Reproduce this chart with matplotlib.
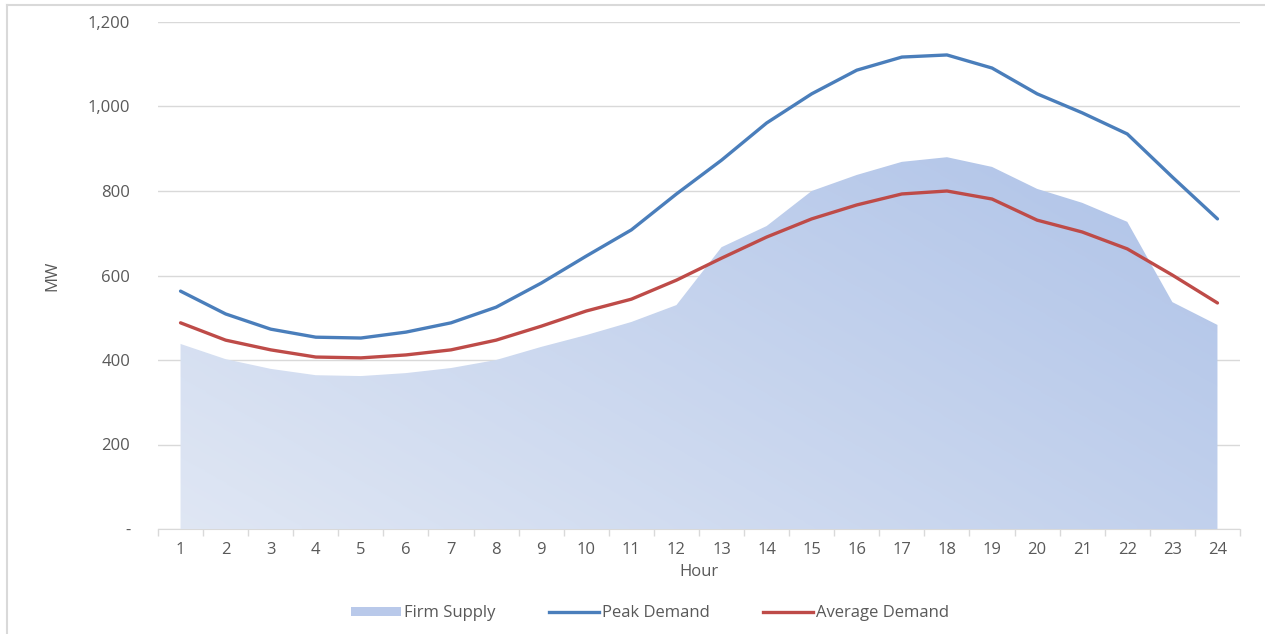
import numpy as np
import matplotlib
matplotlib.use("Agg")
import matplotlib.pyplot as plt
from matplotlib.patches import Rectangle, Polygon
from matplotlib.lines import Line2D
from matplotlib.colors import LinearSegmentedColormap
from matplotlib.ticker import FuncFormatter

hours = list(range(1, 25))
firm_supply = [438, 402, 379, 364, 362, 369, 381, 400, 431, 459, 490, 530,
               667, 717, 800, 838, 869, 880, 857, 805, 772, 727, 537, 483]
peak_demand = [563, 509, 473, 454, 452, 466, 488, 525, 582, 646, 708, 793,
               873, 961, 1030, 1086, 1117, 1122, 1091, 1030, 985, 935, 833, 734]
avg_demand = [488, 447, 424, 407, 405, 412, 424, 447, 480, 516, 544, 589,
              641, 691, 734, 767, 793, 800, 781, 731, 703, 663, 601, 535]
y_ticks = [0, 200, 400, 600, 800, 1000, 1200]

plt.rcParams['font.family'] = ['Open Sans', 'DejaVu Sans']
TXT = '#595959'
GRID = '#d9d9d9'
BLUE = '#4a7ebb'
RED = '#be4b48'

fig = plt.figure(figsize=(12.65, 6.34), dpi=100)
ax = fig.add_axes([158 / 1265, 1 - 529 / 634, (1240 - 158) / 1265, (529 - 22) / 634])

x = np.array(hours, dtype=float)

# gradient-filled firm supply area
grad = LinearSegmentedColormap.from_list('fs', ['#e0e7f4', '#a7bde6'])
gx, gy = np.meshgrid(np.linspace(0, 1, 200), np.linspace(0, 1, 200))
ax.imshow(0.55 * gx + 0.45 * gy, extent=(0.5, 24.5, 0, 1200), origin='lower',
          cmap=grad, aspect='auto', zorder=1, interpolation='bicubic')
verts = [(x[0], 0)] + list(zip(x, firm_supply)) + [(x[-1], 0)]
poly = Polygon(verts, closed=True, facecolor='none', edgecolor='none')
ax.add_patch(poly)
ax.images[0].set_clip_path(poly)

ax.plot(x, peak_demand, color=BLUE, lw=2.4, zorder=3, solid_capstyle='round')
ax.plot(x, avg_demand, color=RED, lw=2.4, zorder=3, solid_capstyle='round')

ax.set_xlim(0.5, 24.5)
ax.set_ylim(0, 1200)
ax.set_yticks(y_ticks)
ax.yaxis.set_major_formatter(FuncFormatter(lambda v, p: '-' if v == 0 else f'{int(v):,}'))
ax.set_xticks(hours)
ax.set_xticks(np.arange(0.5, 25, 1), minor=True)
ax.tick_params(axis='x', which='major', length=0, pad=9, labelsize=12, labelcolor=TXT)
ax.tick_params(axis='x', which='minor', length=5, color=GRID, width=1)
ax.tick_params(axis='y', length=0, pad=20, labelsize=12, labelcolor=TXT)
ax.grid(axis='y', color=GRID, lw=1)
ax.set_axisbelow(True)
for s in ['top', 'right', 'left']:
    ax.spines[s].set_visible(False)
ax.spines['bottom'].set_color(GRID)
ax.spines['bottom'].set_zorder(0)

ax.set_xlabel('Hour', fontsize=12, color=TXT, labelpad=5)
ax.set_ylabel('MW', fontsize=12, color=TXT, labelpad=20)

handles = [Rectangle((0, 0), 1, 1, facecolor='#b9c9ea', edgecolor='none'),
           Line2D([], [], color=BLUE, lw=2.4),
           Line2D([], [], color=RED, lw=2.4)]
leg = fig.legend(handles, ['Firm Supply', 'Peak Demand', 'Average Demand'],
                 loc='center', bbox_to_anchor=(650 / 1265, 1 - 613 / 634), ncol=3,
                 frameon=False, fontsize=12, handlelength=3.0, handleheight=0.45,
                 handletextpad=0.2, columnspacing=3.2, labelcolor=TXT)

# light border around the chart area
fig.add_artist(Line2D([7 / 1265, 7 / 1265], [0, 1 - 5 / 634], transform=fig.transFigure,
                      color='#d9d9d9', lw=1.5))
fig.add_artist(Line2D([7 / 1265, 1], [1 - 5 / 634, 1 - 5 / 634], transform=fig.transFigure,
                      color='#d9d9d9', lw=1.5))

fig.savefig('out.png', dpi=100, facecolor='white')
